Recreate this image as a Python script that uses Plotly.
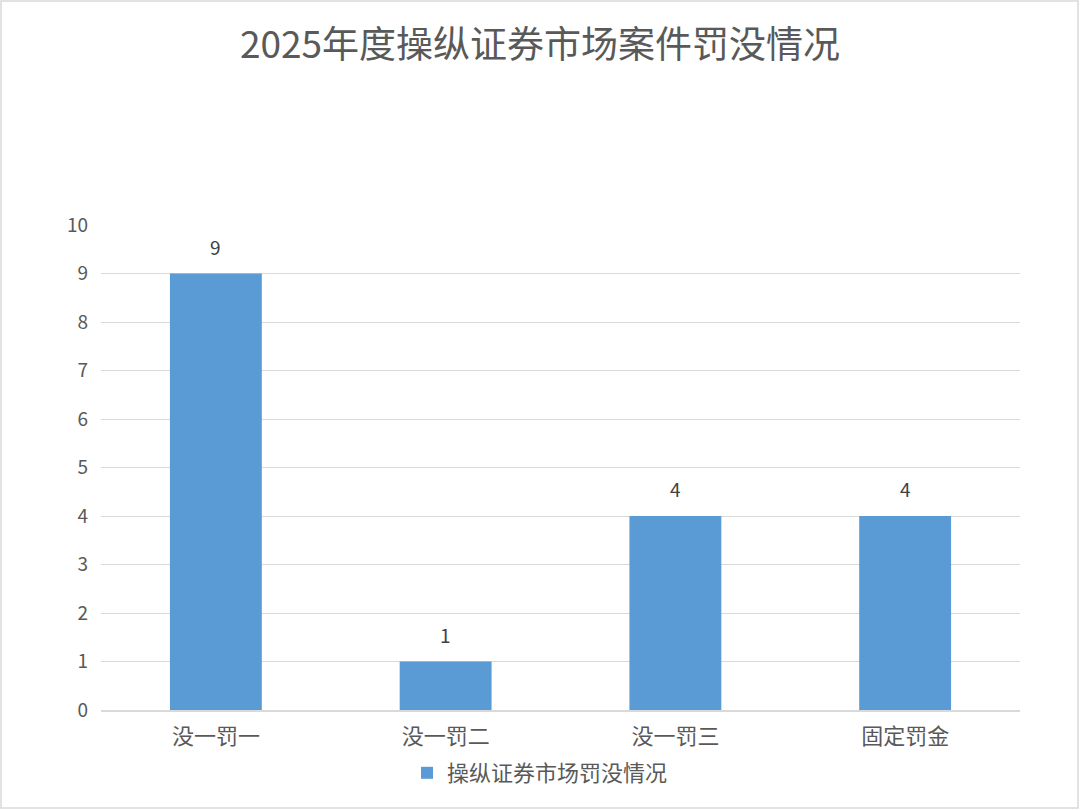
import plotly.graph_objects as go

categories = ["没一罚一", "没一罚二", "没一罚三", "固定罚金"]
values = [9, 1, 4, 4]
series_name = "操纵证券市场罚没情况"
title_text = "2025年度操纵证券市场案件罚没情况"
y_ticks = list(range(0, 11))

W, H = 1080, 810
ML, MR, MT, MB = 101, 60, 225, 100
PW, PH = W - ML - MR, H - MT - MB

font_family = "Noto Sans CJK SC, Noto Sans, sans-serif"
grey = "#595959"

fig = go.Figure()
fig.add_trace(go.Bar(
    x=categories, y=values, name=series_name,
    marker=dict(color="#5B9BD5", line=dict(width=0)),
    width=0.4,
    showlegend=True,
))

for c, v in zip(categories, values):
    fig.add_annotation(x=c, y=v, text=str(v), showarrow=False,
                       yanchor="bottom", yshift=12,
                       font=dict(size=19, color="#404040", family=font_family))

fig.update_layout(
    width=W, height=H, autosize=False,
    margin=dict(l=ML, r=MR, t=MT, b=MB, autoexpand=False),
    paper_bgcolor="white", plot_bgcolor="white",
    font=dict(family=font_family, color=grey),
    title=dict(text=title_text, x=0.5, xref="container", xanchor="center",
               y=1 - 45 / H, yref="container", yanchor="middle",
               font=dict(size=37, color=grey, family=font_family)),
    xaxis=dict(showgrid=False, showline=True, linecolor="#D9D9D9", linewidth=1.5,
               ticks="", tickfont=dict(size=22, color=grey), ticklabelstandoff=6),
    yaxis=dict(range=[0, 10], tickvals=y_ticks, showgrid=True, gridcolor="#D9D9D9",
               gridwidth=1.3, zeroline=False, showline=False, ticks="",
               tickfont=dict(size=19, color=grey), ticklabelstandoff=12),
    legend=dict(orientation="h", x=0.5, xref="container", xanchor="center",
                y=1 - 773 / H, yref="container", yanchor="middle",
                bgcolor="rgba(0,0,0,0)", itemwidth=30,
                font=dict(size=22, color=grey)),
    bargap=0.6,
)

fig.add_shape(type="rect", xref="paper", yref="paper",
              x0=-(ML - 1) / PW, x1=1 + (MR - 2) / PW,
              y0=-(MB - 2) / PH, y1=1 + (MT - 1) / PH,
              line=dict(color="#D9D9D9", width=1.5), fillcolor="rgba(0,0,0,0)", layer="below")

fig.write_html("out.html", config={"displayModeBar": False, "responsive": False},
               post_script="document.body.style.margin='0';document.body.style.overflow='hidden';")
